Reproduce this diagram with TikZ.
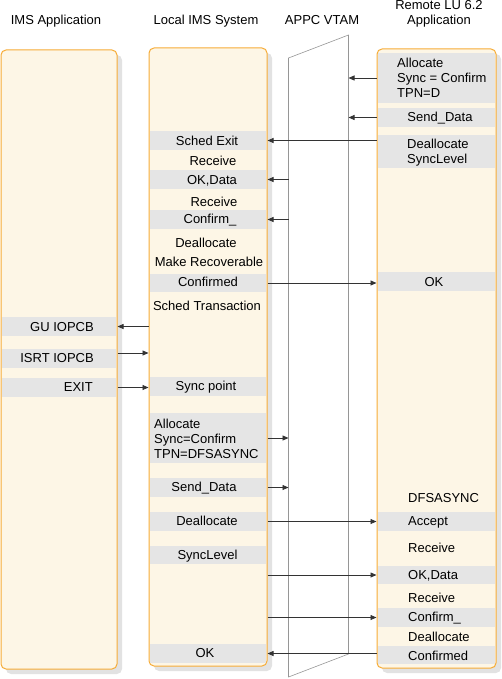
\documentclass[tikz,border=0pt]{standalone}
\usepackage{fontspec}
\setmainfont{Liberation Sans}
\usetikzlibrary{arrows.meta,shadows}
\definecolor{colorange}{RGB}{246,172,55}
\definecolor{colcream}{RGB}{253,246,230}
\definecolor{bandgray}{RGB}{229,229,229}
\definecolor{shadowgray}{RGB}{226,226,226}
\definecolor{linegray}{RGB}{51,51,51}
\definecolor{vtamgray}{RGB}{150,150,150}
\tikzset{
  col/.style={draw=colorange, fill=colcream, rounded corners=5pt, line width=1pt,
    inner sep=0pt, general shadow={fill=shadowgray, shadow xshift=5pt, shadow yshift=-5pt}},
  lband/.style={fill=bandgray, inner sep=0pt, minimum width=114pt},
  mband/.style={fill=bandgray, inner sep=0pt, minimum width=116pt},
  rband/.style={fill=bandgray, inner sep=0pt, minimum width=117pt},
  txt/.style={inner sep=0pt, text height=9.3pt, text depth=0pt, font=\fontsize{13}{15}\selectfont},
  mtxt/.style={inner sep=0pt, align=left, font=\fontsize{13}{15}\selectfont},
  arr/.style={draw=linegray, line width=0.8pt, -{Triangle[length=6pt,width=5pt]}},
  vtam/.style={draw=vtamgray, line width=0.6pt}
}
\begin{document}
\begin{tikzpicture}[x=1pt,y=1pt]
\useasboundingbox (0,0) rectangle (501,-679);

% titles
\node[txt] (t1) at (56,-20) {IMS Application};
\node[txt] (t2) at (206,-20) {Local IMS System};
\node[txt] (t3) at (322,-20) {APPC VTAM};
\node[mtxt, align=center, anchor=north] (t4) at (439,-0.6) {Remote LU 6.2\\Application};

% columns
\node[col, minimum width=116pt, minimum height=619pt] (ims) at (59,-359.5) {};
\node[col, minimum width=118pt, minimum height=618pt] (mid) at (208,-357) {};
\node[col, minimum width=119pt, minimum height=619pt] (remote) at (436.5,-358.5) {};

% VTAM
\coordinate (vtl) at (288.5,-58);
\coordinate (vtr) at (348.5,-35);
\coordinate (vbr) at (348.5,-654);
\coordinate (vbl) at (288.5,-677);
\draw[vtam] (vtl) -- (vtr) -- (vbr) -- (vbl) -- cycle;

% left bands
\node[lband, minimum height=19pt] (gu) at (59,-326.5) {};
\node[lband, minimum height=19pt] (isrt) at (59,-358.5) {};
\node[lband, minimum height=19pt] (exitb) at (59,-387.5) {};
\node[txt, anchor=east] (gut) at (94,-327) {GU IOPCB};
\node[txt, anchor=east] (isrtt) at (94,-358) {ISRT IOPCB};
\node[txt, anchor=east] (exitt) at (93,-387) {EXIT};

% middle bands
\node[mband, minimum height=19pt] (mschedexit) at (208,-140.5) {};
\node[mband, minimum height=19pt] (mokdata) at (208,-179.5) {};
\node[mband, minimum height=19pt] (mconfirm) at (208,-219.5) {};
\node[mband, minimum height=18pt] (mconfirmed) at (208,-283) {};
\node[mband, minimum height=19pt] (msync) at (208,-386.5) {};
\node[mband, minimum height=50pt] (malloc) at (208,-438) {};
\node[mband, minimum height=19pt] (msend) at (208,-487.5) {};
\node[mband, minimum height=19pt] (mdealloc) at (208,-521.5) {};
\node[mband, minimum height=18pt] (msynclevel) at (208,-555) {};
\node[mband, minimum height=19pt] (mok) at (208,-653.5) {};

\node[txt] (mt1) at (207,-140.5) {Sched Exit};
\node[txt] (mt2) at (213,-161) {Receive};
\node[txt] (mt3) at (212,-180) {OK,Data};
\node[txt] (mt4) at (214,-202) {Receive};
\node[txt] (mt5) at (210,-219) {Confirm\_};
\node[txt] (mt6) at (206,-243) {Deallocate};
\node[txt] (mt7) at (209,-262) {Make Recoverable};
\node[txt] (mt8) at (208,-282) {Confirmed};
\node[txt] (mt9) at (207,-306) {Sched Transaction};
\node[txt] (mt10) at (206,-386) {Sync point};
\node[mtxt, anchor=north west] (mt11) at (154,-418.4) {Allocate\\Sync=Confirm\\TPN=DFSASYNC};
\node[txt] (mt12) at (204,-487) {Send\_Data};
\node[txt] (mt13) at (207,-521) {Deallocate};
\node[txt] (mt14) at (207.5,-555) {SyncLevel};
\node[txt] (mt15) at (205,-653) {OK};

% right bands
\node[rband, minimum height=50pt] (ralloc) at (436.5,-78) {};
\node[rband, minimum height=19pt] (rsend) at (436.5,-117.5) {};
\node[rband, minimum height=33pt] (rdealloc) at (436.5,-151.5) {};
\node[rband, minimum height=19pt] (rok) at (436.5,-281.5) {};
\node[rband, minimum height=19pt] (raccept) at (436.5,-521.5) {};
\node[rband, minimum height=18pt] (rokdata) at (436.5,-575) {};
\node[rband, minimum height=19pt] (rconfirm) at (436.5,-617.5) {};
\node[rband, minimum height=18pt] (rconfirmed) at (436.5,-655) {};

\node[mtxt, anchor=north west] (rt1) at (397,-57.4) {Allocate\\Sync = Confirm\\TPN=D};
\node[txt] (rt2) at (440,-117) {Send\_Data};
\node[mtxt, anchor=north west] (rt3) at (407,-138.4) {Deallocate\\SyncLevel};
\node[txt] (rt4) at (434,-282) {OK};
\node[txt, anchor=west] (rt5) at (408,-498) {DFSASYNC};
\node[txt, anchor=west] (rt6) at (408,-521) {Accept};
\node[txt, anchor=west] (rt7) at (408,-548) {Receive};
\node[txt, anchor=west] (rt8) at (408,-575) {OK,Data};
\node[txt, anchor=west] (rt9) at (408,-598) {Receive};
\node[txt, anchor=west] (rt10) at (408,-617) {Confirm\_};
\node[txt, anchor=west] (rt11) at (408,-637) {Deallocate};
\node[txt, anchor=west] (rt12) at (408,-656) {Confirmed};

% connectors
\draw[arr] (remote.west |- ralloc) -- (vtr |- ralloc);
\draw[arr] (remote.west |- rsend) -- (vtr |- rsend);
\draw[arr] (remote.west |- mschedexit) -- (mid.east |- mschedexit);
\draw[arr] (vtl |- mokdata) -- (mid.east |- mokdata);
\draw[arr] (vtl |- mconfirm) -- (mid.east |- mconfirm);
\draw[arr] (mid.east |- mconfirmed) -- (remote.west |- mconfirmed);
\draw[arr] (mid.west |- gu) -- (ims.east |- gu);
\draw[arr] ([yshift=5.5pt]ims.east |- isrt) -- ([yshift=5.5pt]mid.west |- isrt);
\draw[arr] (ims.east |- exitb) -- (mid.west |- exitb);
\draw[arr] (mid.east |- malloc) -- (vtl |- malloc);
\draw[arr] (mid.east |- msend) -- (vtl |- msend);
\draw[arr] (mid.east |- mdealloc) -- (remote.west |- mdealloc);
\draw[arr] (mid.east |- rokdata) -- (remote.west |- rokdata);
\draw[arr] (mid.east |- rconfirm) -- (remote.west |- rconfirm);
\draw[arr] (remote.west |- mok) -- (mid.east |- mok);
\end{tikzpicture}
\end{document}
